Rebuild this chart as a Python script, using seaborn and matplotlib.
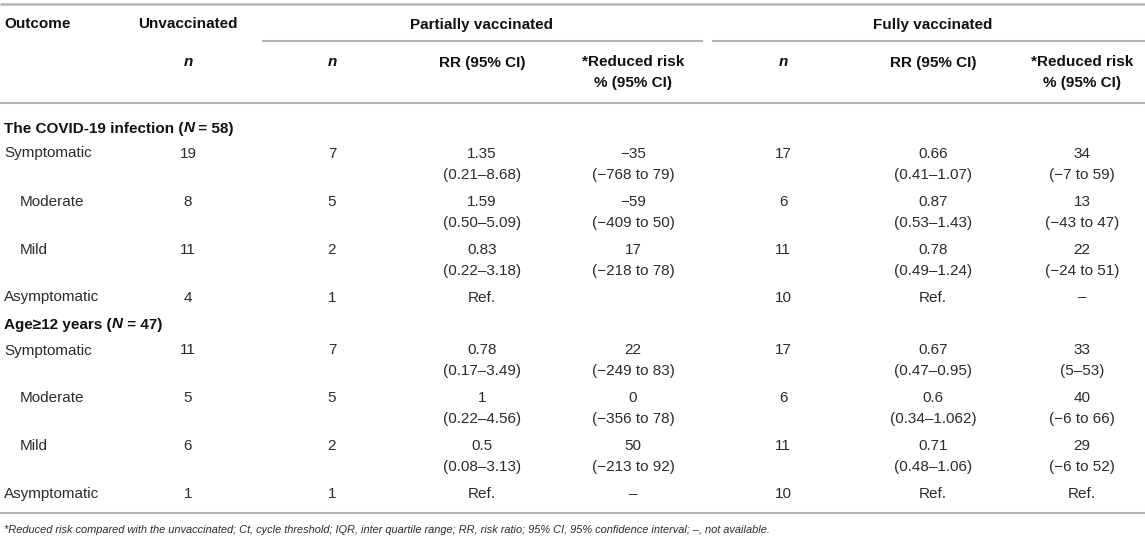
import matplotlib
matplotlib.use("Agg")
import matplotlib.pyplot as plt
import seaborn as sns

# ---------------- data ----------------
section_titles = ["The COVID-19 infection", "Age\u226512 years"]
section_N = [58, 47]
outcomes = ["Symptomatic", "Moderate", "Mild", "Asymptomatic"]
outcome_indent = [False, True, True, False]

unvacc_n_1 = [19, 8, 11, 4]
partial_n_1 = [7, 5, 2, 1]
partial_rr_1 = ["1.35", "1.59", "0.83", "Ref."]
partial_rr_ci_1 = ["(0.21\u20138.68)", "(0.50\u20135.09)", "(0.22\u20133.18)", ""]
partial_red_1 = ["\u221235", "\u221259", "17", ""]
partial_red_ci_1 = ["(\u2212768 to 79)", "(\u2212409 to 50)", "(\u2212218 to 78)", ""]
full_n_1 = [17, 6, 11, 10]
full_rr_1 = ["0.66", "0.87", "0.78", "Ref."]
full_rr_ci_1 = ["(0.41\u20131.07)", "(0.53\u20131.43)", "(0.49\u20131.24)", ""]
full_red_1 = ["34", "13", "22", "\u2013"]
full_red_ci_1 = ["(\u22127 to 59)", "(\u221243 to 47)", "(\u221224 to 51)", ""]

unvacc_n_2 = [11, 5, 6, 1]
partial_n_2 = [7, 5, 2, 1]
partial_rr_2 = ["0.78", "1", "0.5", "Ref."]
partial_rr_ci_2 = ["(0.17\u20133.49)", "(0.22\u20134.56)", "(0.08\u20133.13)", ""]
partial_red_2 = ["22", "0", "50", "\u2013"]
partial_red_ci_2 = ["(\u2212249 to 83)", "(\u2212356 to 78)", "(\u2212213 to 92)", ""]
full_n_2 = [17, 6, 11, 10]
full_rr_2 = ["0.67", "0.6", "0.71", "Ref."]
full_rr_ci_2 = ["(0.47\u20130.95)", "(0.34\u20131.062)", "(0.48\u20131.06)", ""]
full_red_2 = ["33", "40", "29", "Ref."]
full_red_ci_2 = ["(5\u201353)", "(\u22126 to 66)", "(\u22126 to 52)", ""]

group_headers = ["Unvaccinated", "Partially vaccinated", "Fully vaccinated"]
footnote = ("*Reduced risk compared with the unvaccinated; Ct, cycle threshold; IQR, inter quartile range; "
            "RR, risk ratio; 95% CI, 95% confidence interval; \u2013, not available.")

# ---------------- layout ----------------
sns.set_theme(style="white")
plt.rcParams["font.family"] = ["Liberation Sans", "DejaVu Sans"]

W, H = 1145, 542
fig = plt.figure(figsize=(W / 100, H / 100), dpi=100)
ax = fig.add_axes([0, 0, 1, 1])
ax.set_xlim(0, W)
ax.set_ylim(H, 0)
ax.axis("off")

FS = 11
BODY = "#2b2b2b"
HEAD = "#111111"
LINE = "#b4b4b4"

col_x = [188, 332, 482, 633, 783, 933, 1082]
outcome_x = 4
indent_x = 20
CAP = 5.5  # half cap height in px (baseline offset from visual center)

renderer = fig.canvas.get_renderer()


def seg_text(x, y, segments, size=FS, color=HEAD):
    """Draw left-aligned consecutive text segments (text, weight, style)."""
    for s, weight, style in segments:
        t = ax.text(x, y + CAP, s, fontsize=size, fontweight=weight, fontstyle=style,
                    color=color, ha="left", va="baseline")
        bb = t.get_window_extent(renderer=renderer)
        x += bb.width


def hline(y, x0, x1, lw=1.5):
    ax.plot([x0, x1], [y, y], color=LINE, lw=lw, solid_capstyle="butt")


# rules
hline(4, 0, W, 1.8)
hline(41, 262, 703)
hline(41, 712, W)
hline(103, 0, W)
hline(513, 0, W)

# header row 1
ax.text(outcome_x, 23 + CAP, "Outcome", fontsize=FS, fontweight="bold", color=HEAD, ha="left", va="baseline")
for name, x in zip(group_headers, [col_x[0], col_x[2], col_x[5]]):
    ax.text(x, 23 + CAP, name, fontsize=FS, fontweight="bold", color=HEAD, ha="center", va="baseline")

# header row 2
for x in [col_x[0], col_x[1], col_x[4]]:
    ax.text(x, 61 + CAP, "n", fontsize=FS, fontweight="bold", fontstyle="italic", color=HEAD,
            ha="center", va="baseline")
for x in [col_x[2], col_x[5]]:
    ax.text(x, 61 + CAP, "RR (95% CI)", fontsize=FS, fontweight="bold", color=HEAD, ha="center", va="baseline")
for x in [col_x[3], col_x[6]]:
    ax.text(x, 61 + CAP, "*Reduced risk", fontsize=FS, fontweight="bold", color=HEAD, ha="center", va="baseline")
    ax.text(x, 82 + CAP, "% (95% CI)", fontsize=FS, fontweight="bold", color=HEAD, ha="center", va="baseline")

sections = [
    dict(title_y=127, row0=152, step=48.0,
         cols=[unvacc_n_1, partial_n_1, (partial_rr_1, partial_rr_ci_1), (partial_red_1, partial_red_ci_1),
               full_n_1, (full_rr_1, full_rr_ci_1), (full_red_1, full_red_ci_1)]),
    dict(title_y=323, row0=349, step=47.7,
         cols=[unvacc_n_2, partial_n_2, (partial_rr_2, partial_rr_ci_2), (partial_red_2, partial_red_ci_2),
               full_n_2, (full_rr_2, full_rr_ci_2), (full_red_2, full_red_ci_2)]),
]

for si, sec in enumerate(sections):
    seg_text(outcome_x, sec["title_y"],
             [(section_titles[si] + " (", "bold", "normal"),
              ("N", "bold", "italic"),
              (" = " + str(section_N[si]) + ")", "bold", "normal")])
    for ri, name in enumerate(outcomes):
        y = sec["row0"] + ri * sec["step"]
        ax.text(indent_x if outcome_indent[ri] else outcome_x, y + CAP, name, fontsize=FS, color=BODY,
                ha="left", va="baseline")
        for ci, col in enumerate(sec["cols"]):
            if isinstance(col, tuple):
                main, sub = col[0][ri], col[1][ri]
                if main:
                    ax.text(col_x[ci], y + CAP, main, fontsize=FS, color=BODY, ha="center", va="baseline")
                if sub:
                    ax.text(col_x[ci], y + 21 + CAP, sub, fontsize=FS, color=BODY, ha="center", va="baseline")
            else:
                ax.text(col_x[ci], y + CAP, str(col[ri]), fontsize=FS, color=BODY, ha="center", va="baseline")

ax.text(4, 529 + 4, footnote, fontsize=7.9, fontstyle="italic", color=BODY, ha="left", va="baseline")

fig.savefig("out.png", dpi=100)
